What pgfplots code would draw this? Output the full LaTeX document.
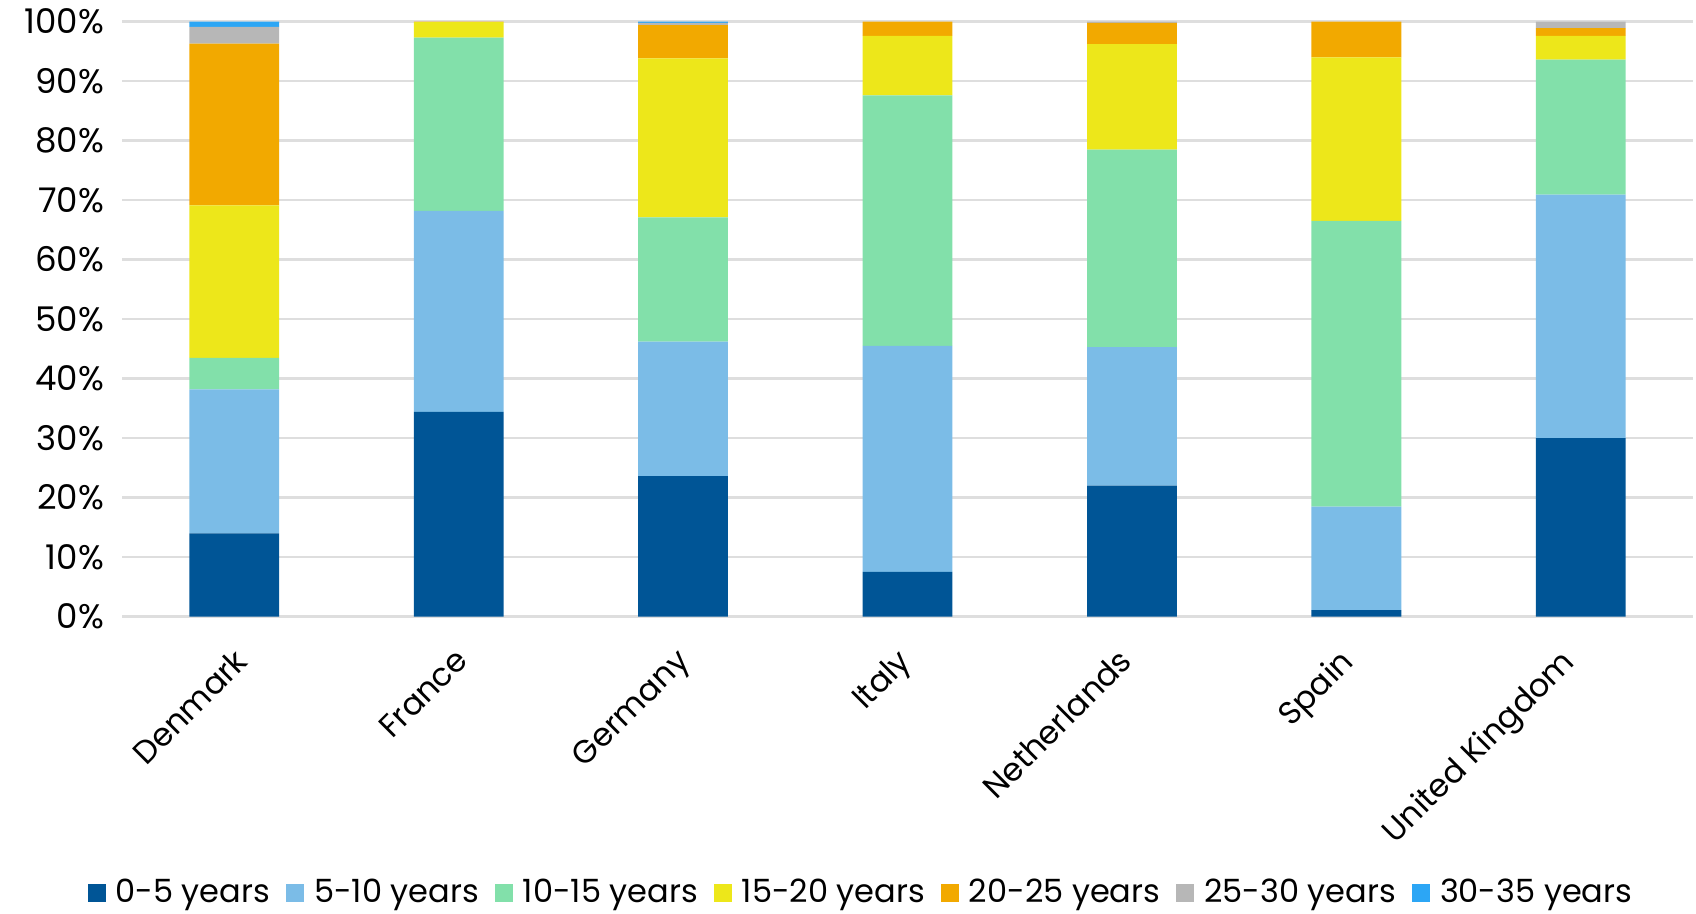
\documentclass[border=0pt]{standalone}
\usepackage{pgfplots}
\pgfplotsset{compat=1.18}
\usepackage{fontspec}
\setmainfont{Poppins}

\definecolor{cA}{HTML}{005596}
\definecolor{cB}{HTML}{7BBCE7}
\definecolor{cC}{HTML}{82E0AA}
\definecolor{cD}{HTML}{EDE71A}
\definecolor{cE}{HTML}{F2A900}
\definecolor{cF}{HTML}{B7B7B7}
\definecolor{cG}{HTML}{2CA6F5}

% shares (%) by maturity bucket, x = Denmark, France, Germany, Italy, Netherlands, Spain, UK
\pgfplotstableread{
x  a     b     c     d     e     f    g
0  14.0  24.2  5.3   25.6  27.2  2.8  0.9
1  34.4  33.8  29.1  2.6   0.1   0.0  0.0
2  23.6  22.6  20.9  26.7  5.6   0.4  0.2
3  7.5   38.0  42.1  10.0  2.4   0.0  0.0
4  22.0  23.3  33.2  17.7  3.6   0.2  0.0
5  1.1   17.4  48.0  27.5  6.0   0.0  0.0
6  30.0  40.9  22.7  4.0   1.3   1.1  0.0
}\shares

\begin{document}
\begin{tikzpicture}
\begin{axis}[
    name=plot,
    width=785.5pt, height=297.5pt,
    scale only axis,
    ybar stacked,
    bar width=0.4,
    xmin=-0.5, xmax=6.5,
    ymin=0, ymax=100,
    axis line style={draw=none},
    ymajorgrids,
    grid style={draw=black!13, line width=1.2pt},
    ytick={0,10,...,100},
    yticklabel={\pgfmathprintnumber{\tick}\%},
    yticklabel style={xshift=-5.5pt, font=\fontsize{17}{19}\selectfont},
    % label anchors sit a little tighter than the bars, as in the original
    xtick={0,0.985,1.97,2.955,3.94,4.925,5.91},
    xticklabels={Denmark,France,Germany,Italy,Netherlands,Spain,United Kingdom},
    xticklabel style={xshift=-0.75pt, yshift=-10pt, rotate=45, anchor=north east,
        font=\fontsize{16}{18}\selectfont},
    tick label style={text=black},
    /pgf/number format/assume math mode=true,
    major tick length=0pt,
    legend style={at={(0.471,-0.464)}, anchor=center, draw=none,
        font=\fontsize{16}{19}\selectfont, legend columns=-1,
        /tikz/every odd column/.append style={column sep=3pt},
        /tikz/every even column/.append style={column sep=6pt}},
    legend image code/.code={\fill[#1] (0pt,-4.5pt) rectangle (9pt,4.5pt);},
]
\addplot[fill=cA, draw=none] table[x=x, y=a] {\shares};
\addplot[fill=cB, draw=none] table[x=x, y=b] {\shares};
\addplot[fill=cC, draw=none] table[x=x, y=c] {\shares};
\addplot[fill=cD, draw=none] table[x=x, y=d] {\shares};
\addplot[fill=cE, draw=none] table[x=x, y=e] {\shares};
\addplot[fill=cF, draw=none] table[x=x, y=f] {\shares};
\addplot[fill=cG, draw=none] table[x=x, y=g] {\shares};
\legend{0-5 years, 5-10 years, 10-15 years, 15-20 years, 20-25 years, 25-30 years, 30-35 years}
\end{axis}
\path ([shift={(-61pt,-147.75pt)}]plot.south west) rectangle ([shift={(1.5pt,10.8pt)}]plot.north east);
\end{tikzpicture}
\end{document}
